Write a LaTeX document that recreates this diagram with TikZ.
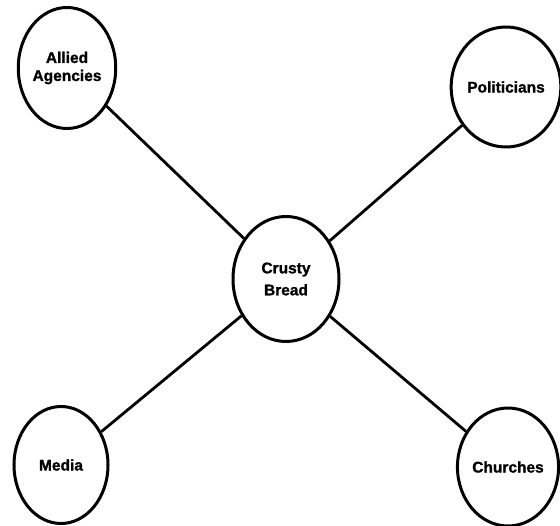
\documentclass[tikz,border=0pt]{standalone}
\usepackage{fontspec}
\setmainfont{Liberation Sans}[BoldFeatures={FakeBold=1.2}]
\usetikzlibrary{shapes.geometric}

\begin{document}
\begin{tikzpicture}[%
    x=1pt, y=-1pt,
    every node/.style={%
      font=\fontsize{15.5}{18}\selectfont\bfseries,
      text=black,
      text centered,
      align=center
    },
    party/.style={ellipse, draw=black, line width=3pt, inner sep=0pt},
    link/.style={draw=black, line width=2.8pt}
  ]

  \useasboundingbox (0,0) rectangle (560,526);

  % Centre
  \node[party, minimum width=106pt, minimum height=125pt] (bread) at (286,279)
    {Crusty\\[4pt]Bread};

  % Outer groups
  \node[party, minimum width=95pt, minimum height=121pt] (allied) at (67,68)
    {Allied\\Agencies};
  \node[party, minimum width=97pt, minimum height=120pt] (politicians) at (506,87)
    {Politicians};
  \node[party, minimum width=94pt, minimum height=117pt] (media) at (61,465)
    {Media};
  \node[party, minimum width=95pt, minimum height=118pt] (churches) at (508,467)
    {Churches};

  % Links
  \draw[link] (bread) -- (allied);
  \draw[link] (bread) -- (politicians);
  \draw[link] (bread) -- (media);
  \draw[link] (bread) -- (churches);

\end{tikzpicture}
\end{document}
